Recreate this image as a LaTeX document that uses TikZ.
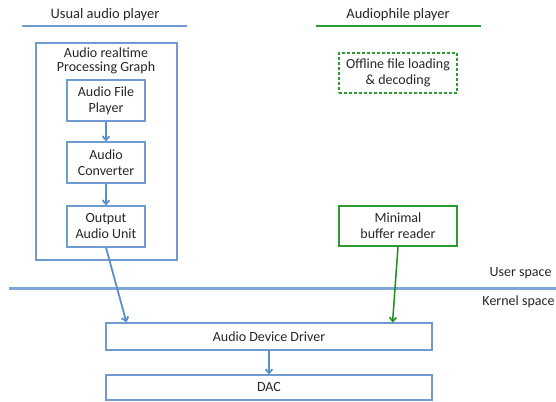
\documentclass[tikz,border=0pt]{standalone}
\usepackage{fontspec}
\setmainfont{Carlito}
\usetikzlibrary{arrows.meta}
\definecolor{bl}{HTML}{6F9BD1}
\definecolor{bla}{HTML}{5B8FC9}
\definecolor{gr}{HTML}{2E9B2E}
\definecolor{gra}{HTML}{1F8C1F}
\definecolor{sep}{HTML}{7FA6D6}
\tikzset{
  box/.style={draw=bl, line width=1.1pt, inner sep=0pt, align=center, font=\fontsize{14}{16}\selectfont, text=black!85},
  gbox/.style={box, draw=gr},
  head/.style={font=\fontsize{14.5}{16}\selectfont, text=black!85},
  side/.style={font=\fontsize{14}{16}\selectfont, text=black!85, anchor=east},
  barrow/.style={draw=bla, line width=1.8pt, -{Straight Barb[length=4pt,width=7pt]}},
  garrow/.style={draw=gra, line width=1.5pt, -{Straight Barb[length=4pt,width=7pt]}},
}
\begin{document}
\begin{tikzpicture}[x=1pt,y=-1pt]
\useasboundingbox (0,0) rectangle (556,401);
% headings
\node[head] (h1) at (105,15) {Usual audio player};
\node[head] (h2) at (398,15) {Audiophile player};
\draw[bl, line width=2pt] (22,26) -- (187,26);
\draw[gr, line width=2pt] (316,26) -- (481,26);
% left group
\node[box, minimum width=141pt, minimum height=217pt] (outer) at (106.5,151.5) {};
\node[align=center, font=\fontsize{14}{14.5}\selectfont, text=black!85] (title) at (106,61) {Audio realtime\\Processing Graph};
\node[box, minimum width=78pt, minimum height=41pt] (afp) at (106,100.5) {Audio File\\Player};
\node[box, minimum width=78pt, minimum height=41pt] (conv) at (106,162.5) {Audio\\Converter};
\node[box, minimum width=78pt, minimum height=41pt] (out) at (106,226.5) {Output\\Audio Unit};
% right group
\node[gbox, dashed, dash pattern=on 3pt off 2pt, minimum width=118pt, minimum height=40pt] (off) at (398,73) {Offline file loading\\\& decoding};
\node[gbox, minimum width=118pt, minimum height=40pt] (min) at (398,226) {Minimal\\buffer reader};
% separator
\draw[sep, line width=3pt] (9,288) -- (556,288);
\node[side] (us) at (555,273) {User space};
\node[side] (ks) at (558,302) {Kernel space};
% kernel
\node[box, minimum width=326pt, minimum height=27pt] (add) at (269,336.5) {Audio Device Driver};
\node[box, minimum width=326pt, minimum height=25pt] (dac) at (269,387.5) {DAC};
% connectors
\draw[barrow] (afp.south) -- (conv.north);
\draw[barrow] (conv.south) -- (out.north);
\draw[barrow] (out.south) -- ([xshift=21pt]add.north west);
\draw[garrow] (min.south) -- ([xshift=-40pt]add.north east);
\draw[barrow] (add.south) -- (dac.north);
\end{tikzpicture}
\end{document}
